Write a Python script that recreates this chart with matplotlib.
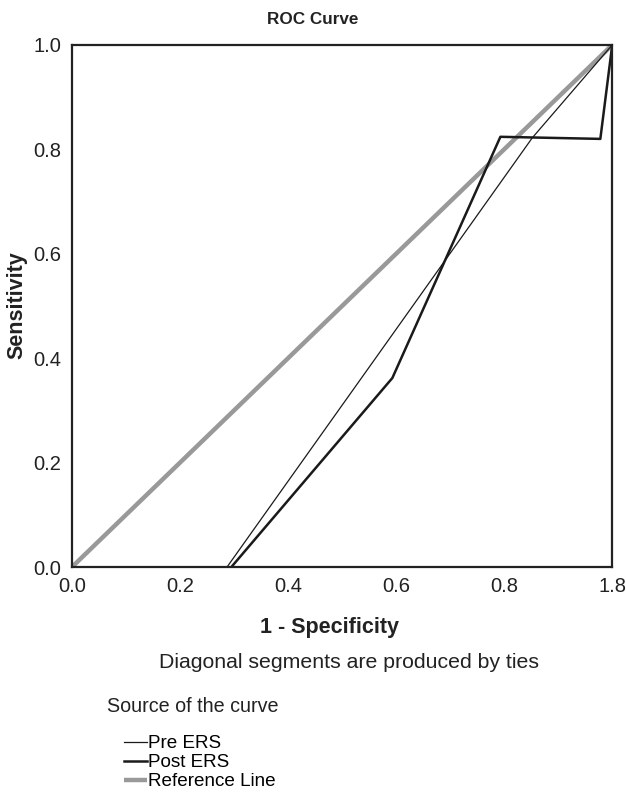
import matplotlib.pyplot as plt

plt.rcParams['font.family'] = ['Liberation Sans', 'DejaVu Sans']

# ROC curve points (1 - specificity, sensitivity)
pre_fpr = [0.287, 0.852, 1.0]
pre_tpr = [0.0, 0.822, 1.0]
post_fpr = [0.295, 0.593, 0.793, 0.978, 1.0]
post_tpr = [0.0, 0.362, 0.824, 0.820, 1.0]
ref_x = [0.0, 1.0]
ref_y = [0.0, 1.0]

x_ticks = [0.0, 0.2, 0.4, 0.6, 0.8, 1.0]
x_labels = ['0.0', '0.2', '0.4', '0.6', '0.8', '1.8']
y_ticks = [0.0, 0.2, 0.4, 0.6, 0.8, 1.0]
y_labels = ['0.0', '0.2', '0.4', '0.6', '0.8', '1.0']

fig = plt.figure(figsize=(6.26, 8.02), dpi=100)
ax = fig.add_axes([0.115, 0.293, 0.863, 0.651])

ax.plot(ref_x, ref_y, color='#999999', linewidth=3.2, label='Reference Line',
        solid_capstyle='butt')
ax.plot(pre_fpr, pre_tpr, color='#1a1a1a', linewidth=0.9, label='Pre ERS')
ax.plot(post_fpr, post_tpr, color='#1a1a1a', linewidth=1.8, label='Post ERS')

ax.set_xlim(0, 1)
ax.set_ylim(0, 1)
ax.set_xticks(x_ticks)
ax.set_xticklabels(x_labels)
ax.set_yticks(y_ticks)
ax.set_yticklabels(y_labels)
ax.tick_params(length=0, labelsize=14.5, colors='#222222')
ax.tick_params(axis='x', pad=7)
ax.tick_params(axis='y', pad=8)
for s in ax.spines.values():
    s.set_linewidth(1.6)
    s.set_color('#222222')

fig.text(0.5, 1 - 19 / 802, 'ROC Curve', ha='center', va='center',
         fontsize=12.3, fontweight='bold', color='#222222')
fig.text(0.527, 1 - 628 / 802, '1 - Specificity', ha='center', va='center',
         fontsize=15.5, fontweight='bold', color='#222222')
fig.text(17 / 626, 1 - 305 / 802, 'Sensitivity', ha='center', va='center',
         rotation=90, fontsize=15.5, fontweight='bold', color='#222222')

fig.text(349 / 626, 1 - 663 / 802, 'Diagonal segments are produced by ties',
         ha='center', va='center', fontsize=15.3, color='#222222')
fig.text(107 / 626, 1 - 707 / 802, 'Source of the curve', ha='left',
         va='center', fontsize=14.2, color='#222222')

h, l = ax.get_legend_handles_labels()
order = [1, 2, 0]
fig.legend([h[i] for i in order], [l[i] for i in order],
           loc='upper left', bbox_to_anchor=(124 / 626, 1 - 735 / 802),
           frameon=False, fontsize=13.6, handlelength=1.2, handletextpad=0.05,
           labelspacing=0.1, borderpad=0, borderaxespad=0)

fig.savefig('out.png', dpi=100)
